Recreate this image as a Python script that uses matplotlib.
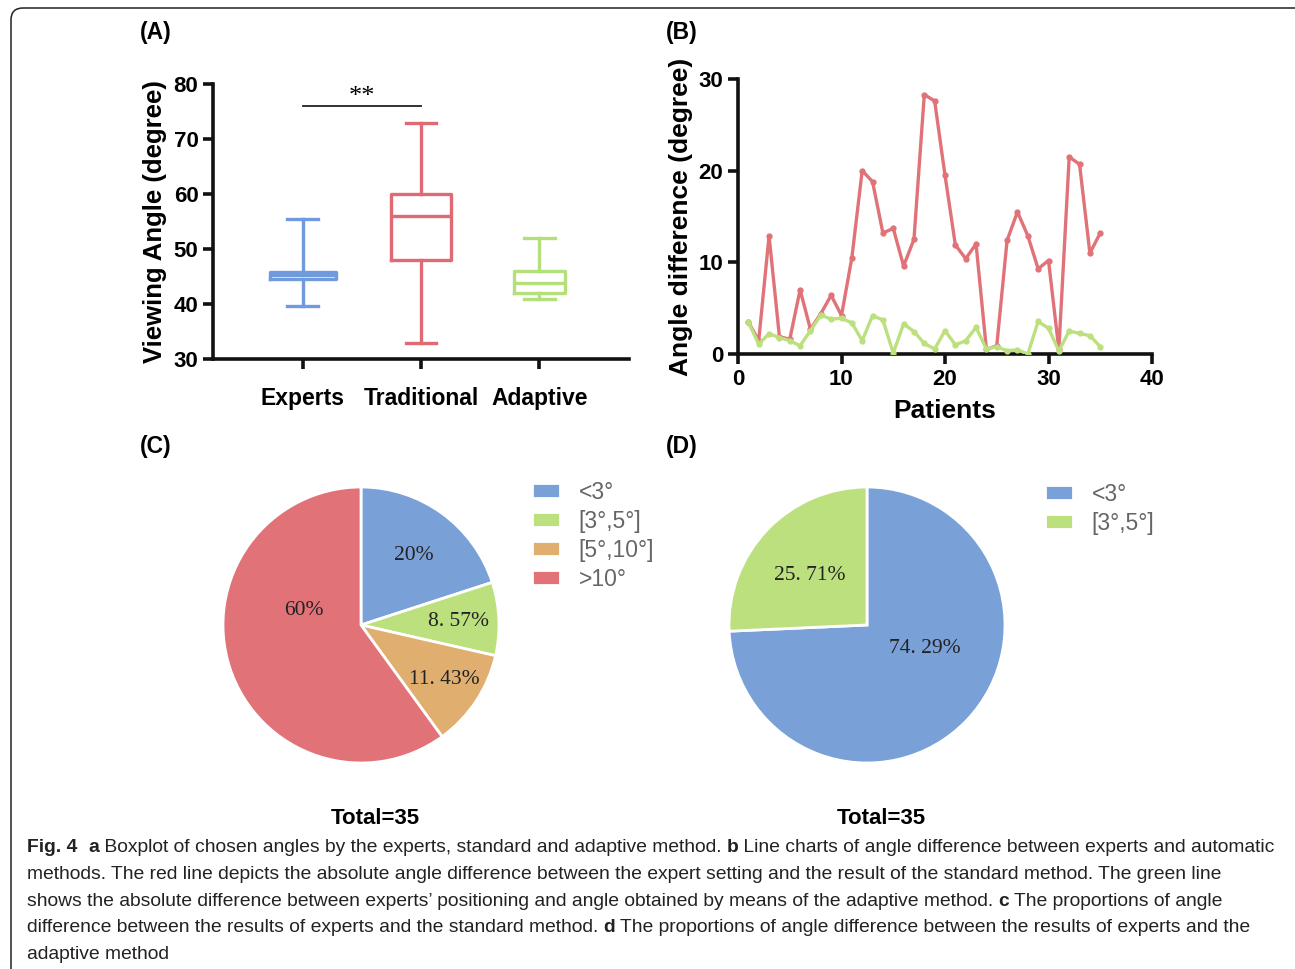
import numpy as np
import matplotlib
matplotlib.use("Agg")
import matplotlib.pyplot as plt
from matplotlib.patches import FancyBboxPatch

# ---- data ----
box_groups = ["Experts", "Traditional", "Adaptive"]
box_whislo = [39.7, 33.0, 41.0]
box_q1 = [44.6, 48.0, 42.0]
box_med = [45.2, 56.0, 43.8]
box_q3 = [45.9, 60.0, 46.0]
box_whishi = [55.5, 73.0, 52.0]

patients = list(range(1, 36))
diff_traditional = [3.5, 1.45, 12.9, 1.9, 1.6, 7.0, 2.7, 4.4, 6.4, 4.2,
                    10.5, 20.0, 18.8, 13.2, 13.7, 9.6, 12.5, 28.3, 27.6, 19.5,
                    11.9, 10.4, 12.0, 0.5, 0.9, 12.4, 15.5, 12.9, 9.3, 10.2,
                    0.5, 21.5, 20.7, 11.0, 13.2]
diff_adaptive = [3.45, 1.1, 2.2, 1.8, 1.45, 0.9, 2.55, 4.25, 3.8, 3.9,
                 3.4, 1.45, 4.2, 3.7, 0.1, 3.3, 2.45, 1.15, 0.55, 2.55,
                 1.0, 1.45, 2.9, 0.55, 0.8, 0.35, 0.45, 0.0, 3.55, 2.8,
                 0.35, 2.5, 2.25, 2.0, 0.8]

pie_c_labels = ["<3°", "[3°,5°]", "[5°,10°]", ">10°"]
pie_c_counts = [7, 3, 4, 21]
pie_c_text = ["20%", "8. 57%", "11. 43%", "60%"]
pie_d_labels = ["<3°", "[3°,5°]"]
pie_d_counts = [26, 9]
pie_d_text = ["74. 29%", "25. 71%"]

caption = [
    [("Fig. 4", True), ("  ", False), ("a", True),
     (" Boxplot of chosen angles by the experts, standard and adaptive method. ", False),
     ("b", True), (" Line charts of angle difference between experts and automatic", False)],
    [("methods. The red line depicts the absolute angle difference between the expert setting and the result of the standard method. The green line", False)],
    [("shows the absolute difference between experts\u2019 positioning and angle obtained by means of the adaptive method. ", False),
     ("c", True), (" The proportions of angle", False)],
    [("difference between the results of experts and the standard method. ", False),
     ("d", True), (" The proportions of angle difference between the results of experts and the", False)],
    [("adaptive method", False)],
]

# ---- style ----
blue = "#7aa0d8"
red = "#e07278"
green = "#bde07f"
orange = "#e0ae6e"
box_colors = ["#6f9ade", "#e06a74", "#b3e07a"]
W, H = 1295, 969
plt.rcParams["font.family"] = ["Liberation Sans", "DejaVu Sans"]

fig = plt.figure(figsize=(W / 100, H / 100), dpi=100)


def frac(left, top, right, bottom):
    return [left / W, 1 - bottom / H, (right - left) / W, (bottom - top) / H]


def style_axes(ax):
    for s in ["top", "right"]:
        ax.spines[s].set_visible(False)
    for s in ["left", "bottom"]:
        ax.spines[s].set_linewidth(2.6)
        ax.spines[s].set_color("#111111")
    ax.tick_params(width=2.6, length=7, labelsize=16, color="#111111")
    for lab in ax.get_xticklabels() + ax.get_yticklabels():
        lab.set_fontweight("bold")


# (A) boxplot
axA = fig.add_axes(frac(213, 84, 629, 359))
stats = []
for i, g in enumerate(box_groups):
    stats.append(dict(label=g, whislo=box_whislo[i], q1=box_q1[i], med=box_med[i],
                      q3=box_q3[i], whishi=box_whishi[i], fliers=[]))
bp = axA.bxp(stats, positions=[1, 2, 3], widths=[0.56, 0.5, 0.43],
             showfliers=False, manage_ticks=False)
for i, c in enumerate(box_colors):
    arts = [bp["boxes"][i], bp["medians"][i]] + bp["whiskers"][2 * i:2 * i + 2] + bp["caps"][2 * i:2 * i + 2]
    for art in arts:
        art.set_color(c)
        art.set_linewidth(2.4)
for cap in bp["caps"]:
    x = cap.get_xdata()
    m = (x[0] + x[1]) / 2
    cap.set_xdata([m - 0.13, m + 0.13])
axA.set_xlim(0.24, 3.76)
axA.set_ylim(30, 80)
axA.set_yticks(range(30, 81, 10))
axA.set_xticks([1, 2, 3])
axA.set_xticklabels(box_groups)
style_axes(axA)
axA.tick_params(axis="x", pad=13, labelsize=16.5)
axA.set_ylabel("Viewing Angle (degree)", fontsize=18.5, fontweight="bold", labelpad=5)
axA.plot([1, 2], [76, 76], color="#222222", lw=1.3, clip_on=False)
axA.text(1.5, 77.7, "**", ha="center", va="center", fontsize=19, family="Liberation Serif")

# (B) line chart
axB = fig.add_axes(frac(738, 79, 1152, 354))
axB.plot(patients, diff_traditional, color=red, lw=2.4, marker="o", ms=3.5, zorder=2)
axB.plot(patients, diff_adaptive, color=green, lw=2.4, marker="o", ms=3.5, zorder=3)
axB.set_xlim(0, 40)
axB.set_ylim(0, 30)
axB.set_xticks(range(0, 41, 10))
axB.set_yticks(range(0, 31, 10))
style_axes(axB)
axB.set_xlabel("Patients", fontsize=19, fontweight="bold", labelpad=7)
axB.set_ylabel("Angle difference (degree)", fontsize=19, fontweight="bold", labelpad=4)

# pies
R = 138
leg_kw = dict(loc="upper left", frameon=False, fontsize=16.5, handlelength=1.25,
              handleheight=0.65, labelspacing=0.26, handletextpad=0.8,
              labelcolor="#666666")


def draw_pie(cx, counts, colors, texts, pos):
    ax = fig.add_axes(frac(cx - R, 625 - R, cx + R, 625 + R))
    wedges, _ = ax.pie(counts, colors=colors, startangle=90, counterclock=False,
                       radius=1, wedgeprops=dict(edgecolor="white", linewidth=2))
    for t, (ang, r) in zip(texts, pos):
        a = np.deg2rad(ang)
        ax.text(r * np.cos(a), r * np.sin(a), t, ha="center", va="center",
                fontsize=15.5, family="Liberation Serif", color="#222222")
    ax.set_xlim(-1, 1)
    ax.set_ylim(-1, 1)
    ax.set_aspect("equal")
    return wedges


wC = draw_pie(361, pie_c_counts, [blue, green, orange, red], pie_c_text,
              [(53, 0.63), (2, 0.71), (-33, 0.72), (166, 0.43)])
fig.legend(wC, pie_c_labels, bbox_to_anchor=(511 / W, 1 - 460 / H), **leg_kw)
wD = draw_pie(867, pie_d_counts, [blue, green], pie_d_text,
              [(-22, 0.45), (139, 0.55)])
fig.legend(wD, pie_d_labels, bbox_to_anchor=(1024 / W, 1 - 462 / H), **leg_kw)

# panel letters and totals
for lab, x, y in [("(A)", 140, 33), ("(B)", 666, 33), ("(C)", 140, 447), ("(D)", 666, 447)]:
    fig.text(x / W, 1 - y / H, lab, ha="left", va="center", fontsize=16.5, fontweight="bold")
for x in [375, 881]:
    fig.text(x / W, 1 - 818 / H, "Total=35", ha="center", va="center",
             fontsize=16, fontweight="bold")

# caption, drawn run by run so bold words sit inline; sized so line 1 spans 27..1275 px
renderer = fig.canvas.get_renderer()
base = 14.0
probe_w = 0
for text, bold in caption[0]:
    t = fig.text(0, 0, text, fontsize=base, fontweight="bold" if bold else "normal")
    probe_w += t.get_window_extent(renderer).width
    t.remove()
cap_size = base * 1257 / probe_w
for li, runs in enumerate(caption):
    x = 27
    ybase = 852 + li * 26.8
    for text, bold in runs:
        t = fig.text(x / W, 1 - ybase / H, text, ha="left", va="baseline", fontsize=cap_size,
                     fontweight="bold" if bold else "normal", color="#222222")
        x += t.get_window_extent(renderer).width

# rounded frame
frame = FancyBboxPatch((11, -30), 1310, H - 8 + 30, boxstyle="round,pad=0,rounding_size=12",
                       transform=None, fill=False, edgecolor="#222222", lw=1.1)
fig.patches.append(frame)

fig.savefig("out.png", dpi=100)
